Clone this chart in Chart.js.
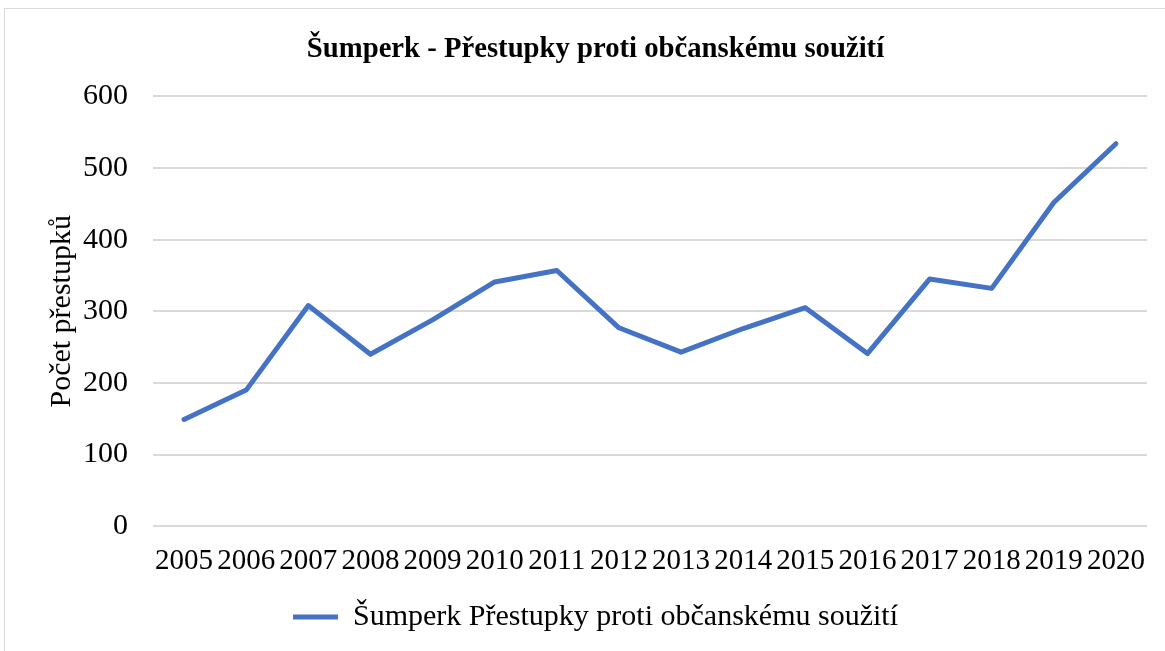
<!DOCTYPE html>
<html>
<head>
<meta charset="utf-8">
<script src="https://cdn.jsdelivr.net/npm/chart.js@4/dist/chart.umd.min.js"></script>
<style>
  html, body { margin: 0; padding: 0; background: #fff; overflow: hidden; }
  #frame { position: absolute; left: 4px; top: 8px; width: 1175px; height: 660px; border: 1px solid #d9d9d9; }
  #wrap { position: absolute; left: 0; top: 0; width: 1165px; height: 651px; }
</style>
</head>
<body>
<div id="frame"></div>
<div id="wrap"><canvas id="prestupkyChart"></canvas></div>
<script>
// years and counts of offences
const years = ['2005', '2006', '2007', '2008', '2009', '2010', '2011', '2012',
               '2013', '2014', '2015', '2016', '2017', '2018', '2019', '2020'];
const prestupky = [149, 190, 308, 240, 288, 341, 357, 277,
                   243, 276, 305, 241, 345, 332, 452, 534];
const seriesName = 'Šumperk Přestupky proti občanskému soužití';
const chartTitle = 'Šumperk - Přestupky proti občanskému soužití';
const yTitle = 'Počet přestupků';

const serif = '"Liberation Serif", "Times New Roman", serif';
const blue = '#4472C4';

const ctx = document.getElementById('prestupkyChart').getContext('2d');
new Chart(ctx, {
  type: 'line',
  data: {
    labels: years,
    datasets: [{
      label: seriesName,
      data: prestupky,
      borderColor: blue,
      backgroundColor: blue,
      borderWidth: 5,
      borderCapStyle: 'round',
      borderJoinStyle: 'round',
      pointRadius: 0,
      pointHoverRadius: 0,
      pointStyle: 'line',
      tension: 0,
      fill: false
    }]
  },
  options: {
    responsive: true,
    maintainAspectRatio: false,
    animation: false,
    layout: { padding: { left: 44, right: 18, top: 32, bottom: 9 } },
    plugins: {
      title: {
        display: true,
        text: chartTitle,
        color: '#000',
        font: { family: serif, size: 28.7, weight: 'bold' },
        padding: { top: 0, bottom: 30 }
      },
      legend: {
        position: 'bottom',
        labels: {
          color: '#000',
          font: { family: serif, size: 30 },
          usePointStyle: true,
          pointStyleWidth: 45,
          padding: 13
        }
      },
      tooltip: { enabled: false }
    },
    scales: {
      x: {
        offset: true,
        grid: { display: false },
        border: { display: false },
        ticks: {
          color: '#000',
          font: { family: serif, size: 29 },
          maxRotation: 0,
          autoSkip: false,
          padding: 10
        }
      },
      y: {
        min: 0,
        max: 600,
        // keep the axis column narrow: title, labels, then the grid
        afterFit(scale) { scale.width = 109; },
        ticks: {
          stepSize: 100,
          color: '#000',
          font: { family: serif, size: 30 },
          padding: 25
        },
        grid: { color: '#d9d9d9', lineWidth: 2, drawTicks: false },
        border: { display: false },
        title: {
          display: true,
          text: yTitle,
          color: '#000',
          font: { family: serif, size: 30 },
          padding: { top: 0, bottom: 3 }
        }
      }
    }
  }
});
</script>
</body>
</html>
